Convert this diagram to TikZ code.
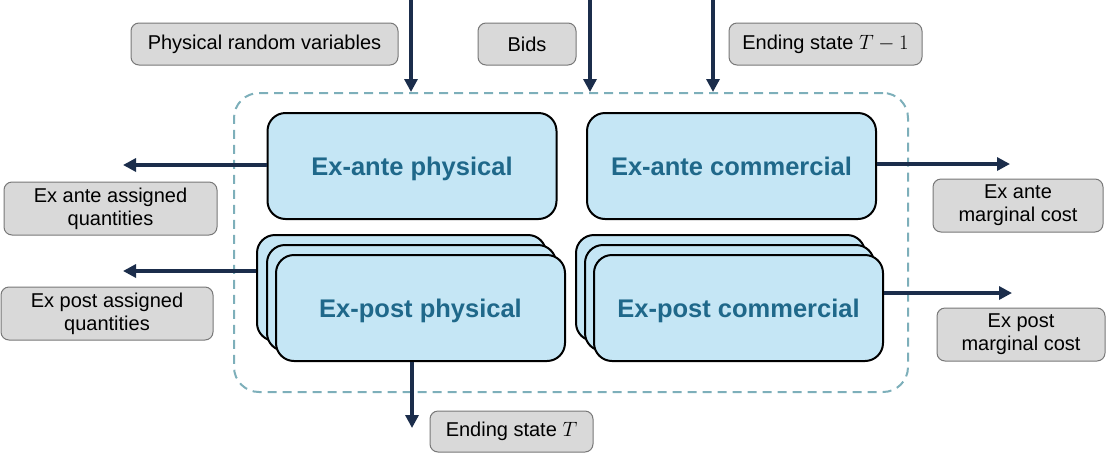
\documentclass[tikz,border=0pt]{standalone}
\usepackage{fontspec}
\setmainfont{Liberation Sans}
\usetikzlibrary{arrows.meta,calc}
\definecolor{boxblue}{RGB}{197,230,245}
\definecolor{boxtext}{RGB}{31,104,138}
\definecolor{navy}{RGB}{27,45,75}
\definecolor{dashc}{RGB}{125,175,186}
\definecolor{greyfill}{RGB}{217,217,217}
\definecolor{greyline}{RGB}{120,120,120}
\tikzset{
  bluebox/.style={draw=black, line width=2pt, fill=boxblue, rounded corners=18pt,
    minimum width=289pt, minimum height=106pt, inner sep=0pt,
    text height=18.3pt, text depth=0pt,
    font=\fontsize{25.5}{29}\selectfont\bfseries, text=boxtext},
  greybox/.style={draw=greyline, line width=1pt, fill=greyfill, rounded corners=8pt,
    inner sep=0pt, align=center, font=\fontsize{20}{23}\selectfont, text=black},
  arr/.style={draw=navy, line width=3.2pt, -{Triangle[length=13pt,width=13pt]}},
  groupbox/.style={draw=dashc, line width=2pt, dash pattern=on 9pt off 6pt,
    rounded corners=25pt, inner sep=0pt, minimum width=674pt, minimum height=299pt}
}
\begin{document}
\begin{tikzpicture}[x=1pt,y=-1pt]
\path[use as bounding box] (0,0) rectangle (1106,456);
% group
\node[groupbox] (group) at (571,242.5) {};
% ex-ante
\node[bluebox] (eap) at (412,166) {Ex-ante physical};
\node[bluebox] (eac) at (731.5,166) {Ex-ante commercial};
% ex-post physical stack
\node[bluebox] (epp1) at (401.5,288) {};
\node[bluebox] (epp2) at (411.5,298) {};
\node[bluebox] (epp) at (420.5,308) {Ex-post physical};
% ex-post commercial stack
\node[bluebox] (epc1) at (720.5,288) {};
\node[bluebox] (epc2) at (729.5,298) {};
\node[bluebox] (epc) at (738.5,308) {Ex-post commercial};
% grey boxes
\node[greybox, minimum width=267pt, minimum height=42pt] (prv) at (264.5,44) {Physical random variables};
\node[greybox, minimum width=98pt, minimum height=42pt] (bids) at (527,44) {Bids};
\node[greybox, minimum width=193pt, minimum height=42pt] (est1) at (825.5,44) {Ending state $T-1$};
\node[greybox, minimum width=213pt, minimum height=53pt] (eaq) at (110.5,208.5) {Ex ante assigned\\quantities};
\node[greybox, minimum width=212pt, minimum height=53pt] (epq) at (107,313.5) {Ex post assigned\\quantities};
\node[greybox, minimum width=170pt, minimum height=53pt] (eamc) at (1018,205.5) {Ex ante\\marginal cost};
\node[greybox, minimum width=168pt, minimum height=53pt] (epmc) at (1021,334.5) {Ex post\\marginal cost};
\node[greybox, minimum width=163pt, minimum height=41pt] (est) at (511.5,431.5) {Ending state $T$};
% connector end points
\coordinate (in1) at (411,0);
\coordinate (in2) at (590,0);
\coordinate (in3) at (713,0);
\coordinate (tipL1) at (123,165);
\coordinate (tipL2) at (123,271);
\coordinate (tipR1) at (1010,164);
\coordinate (tipR2) at (1012,293);
\coordinate (tipB) at (412,428);
% connectors
\draw[arr] (in1) -- (in1 |- group.north);
\draw[arr] (in2) -- (in2 |- group.north);
\draw[arr] (in3) -- (in3 |- group.north);
\draw[arr] (eap.west |- tipL1) -- (tipL1);
\draw[arr] (epp1.west |- tipL2) -- (tipL2);
\draw[arr] (eac.east |- tipR1) -- (tipR1);
\draw[arr] (epc.east |- tipR2) -- (tipR2);
\draw[arr] (tipB |- epp.south) -- (tipB);
\end{tikzpicture}
\end{document}
